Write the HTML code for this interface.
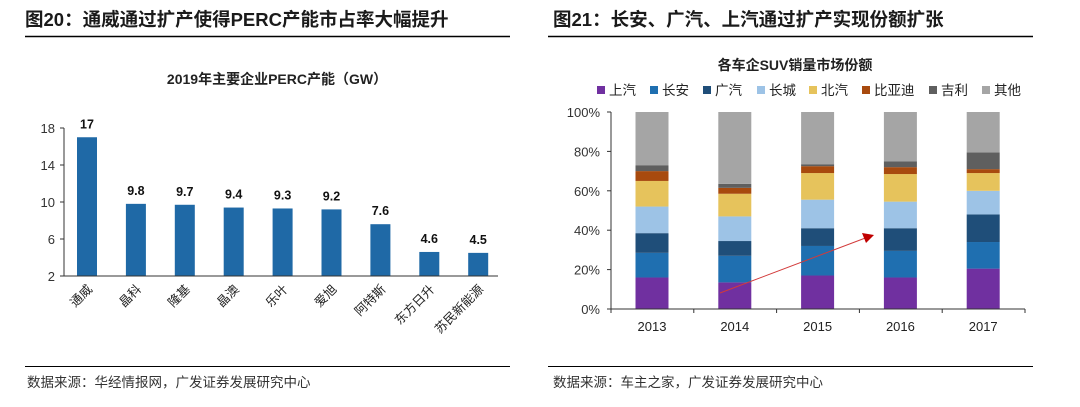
<!DOCTYPE html>
<html><head><meta charset="utf-8"><style>
body{margin:0;background:#fff;width:1080px;height:407px;overflow:hidden;font-family:"Liberation Sans","Noto Sans CJK SC",sans-serif}
svg{display:block}
</style></head><body>
<svg width="1080" height="407" id="s">
<text x="25" y="26" font-size="18.5" font-weight="bold" fill="#1a1a1a">图20：通威通过扩产使得PERC产能市占率大幅提升</text>
<line x1="25" y1="36.5" x2="510" y2="36.5" stroke="#000" stroke-width="1.5"/>
<text x="553" y="26" font-size="18.5" font-weight="bold" fill="#1a1a1a">图21：长安、广汽、上汽通过扩产实现份额扩张</text>
<line x1="548" y1="36.5" x2="1033" y2="36.5" stroke="#000" stroke-width="1.5"/>
<text x="277" y="84" font-size="14" font-weight="bold" text-anchor="middle" fill="#222">2019年主要企业PERC产能（GW）</text>
<text x="795" y="70" font-size="14" font-weight="bold" text-anchor="middle" fill="#222">各车企SUV销量市场份额</text>
<line x1="25" y1="366.5" x2="510" y2="366.5" stroke="#000" stroke-width="1"/>
<line x1="548" y1="366.5" x2="1033" y2="366.5" stroke="#000" stroke-width="1"/>
<text x="27" y="387" font-size="13.5" fill="#333">数据来源：华经情报网，广发证券发展研究中心</text>
<text x="553" y="387" font-size="13.5" fill="#333">数据来源：车主之家，广发证券发展研究中心</text>
<g id="left"></g><g id="right"></g>
</svg>
<script>
const NS="http://www.w3.org/2000/svg";
const companies=["通威","晶科","隆基","晶澳","乐叶","爱旭","阿特斯","东方日升","苏民新能源"];
const capacity=[17,9.8,9.7,9.4,9.3,9.2,7.6,4.6,4.5];
const capacityLabels=["17","9.8","9.7","9.4","9.3","9.2","7.6","4.6","4.5"];
const leftTicks=[2,6,10,14,18];
const years=["2013","2014","2015","2016","2017"];
const seriesNames=["上汽","长安","广汽","长城","北汽","比亚迪","吉利","其他"];
const s_shangqi=[16,13.5,17,16,20.5];
const s_changan=[12.5,13.5,15,13.5,13.5];
const s_guangqi=[10,7.5,9,11.5,14];
const s_changcheng=[13.5,12.5,14.5,13.5,12];
const s_beiqi=[13,11.5,13.5,14,9];
const s_byd=[5,3,3.5,3.5,2];
const s_geely=[3,2,1,3,8.5];
const s_other=[27,36.5,26.5,25,20.5];
const rightTicks=[0,20,40,60,80,100];
const colors=["#7030a0","#1f6fb0","#1f4e79","#9dc3e6","#e6c35c","#a84a0e","#5f5f5f","#a5a5a5"];
function el(t,a,p,txt){const e=document.createElementNS(NS,t);for(const k in a)e.setAttribute(k,a[k]);if(txt!=null)e.textContent=txt;p.appendChild(e);return e;}
// left chart
const L=document.getElementById('left');
const ly=v=>276-(v-2)/16*148;
const lx=i=>87+i*48.9;
leftTicks.forEach(t=>{
 const tk=el('line',{x1:60,x2:64,y1:ly(t),y2:ly(t),stroke:'#333'},L);
 
 
 const tl=el('text',{x:55,y:ly(t)+5,'font-size':13,'text-anchor':'end',fill:'#333'},L,t);
 
 
});
capacity.forEach((v,i)=>{
 const b=el('rect',{x:lx(i)-10,y:ly(v),width:20,height:276-ly(v),fill:'#1f69a6'},L);
 
 
 const t=el('text',{x:lx(i),y:ly(v)-9,'font-size':12.5,'font-weight':'bold','text-anchor':'middle',fill:'#111'},L,capacityLabels[i]);
 
 
 const c=el('text',{x:lx(i)+6,y:290,'font-size':12.5,'text-anchor':'end',fill:'#222',transform:`rotate(-45 ${lx(i)+6} 290)`},L,companies[i]);
 
 
});
const lya=el('line',{x1:64,x2:64,y1:ly(18),y2:276,stroke:'#333'},L);


const lxa=el('line',{x1:64,x2:498,y1:276,y2:276,stroke:'#333'},L);


// right chart
const R=document.getElementById('right');
const ry=v=>309-v/100*197;
const rx=i=>652+i*82.8;
const series=[s_shangqi,s_changan,s_guangqi,s_changcheng,s_beiqi,s_byd,s_geely,s_other];
// legend
const legX=[597,650,703,757,809,862,929,982];
seriesNames.forEach((n,i)=>{
 const g=el('g',{},R);
 
 
 el('rect',{x:legX[i],y:86,width:8,height:8,fill:colors[i]},g);
 el('text',{x:legX[i]+12,y:95,'font-size':13.5,fill:'#222'},g,n);
});
rightTicks.forEach(t=>{
 const tk=el('line',{x1:607,x2:611,y1:ry(t),y2:ry(t),stroke:'#333'},R);
 
 
 const tl=el('text',{x:600,y:ry(t)+5,'font-size':13,'text-anchor':'end',fill:'#333'},R,t+'%');
 
 
});
years.forEach((y,i)=>{
 let acc=0;
 series.forEach((s,k)=>{
  const v=s[i];
  const r=el('rect',{x:rx(i)-16.5,y:ry(acc+v),width:33,height:ry(acc)-ry(acc+v),fill:colors[k]},R);
  
  
  acc+=v;
 });
 const t=el('text',{x:rx(i),y:331,'font-size':13,'text-anchor':'middle',fill:'#222'},R,y);
 
 
});
for(let i=0;i<=5;i++){
 const x=611+i*82.8;
 const tk=el('line',{x1:x,x2:x,y1:309,y2:313,stroke:'#333'},R);
 
 
}
const rya=el('line',{x1:611,x2:611,y1:ry(100),y2:309,stroke:'#333'},R);


const rxa=el('line',{x1:611,x2:1025,y1:309,y2:309,stroke:'#333'},R);


const ar=el('line',{x1:720,y1:293,x2:868,y2:237,stroke:'#d23a3a','stroke-width':1},R);


const ah=el('polygon',{points:'874,235 862,233 866,243',fill:'#c00000'},R);


</script>
</body></html>
